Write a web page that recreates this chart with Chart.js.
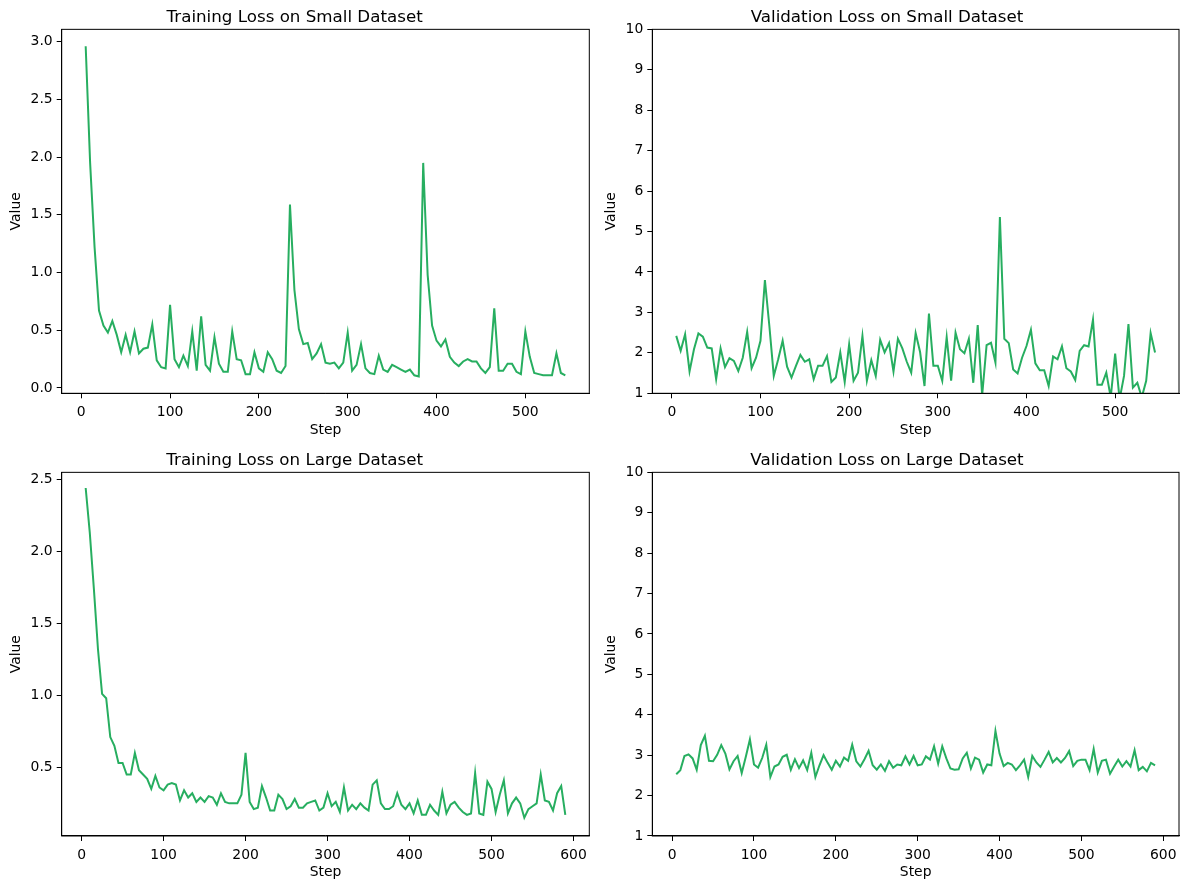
<!DOCTYPE html>
<html>
<head>
<meta charset="utf-8">
<script src="https://cdn.jsdelivr.net/npm/chart.js@4.4.1/dist/chart.umd.min.js"></script>
<style>
  html, body { margin: 0; padding: 0; background: #fff; }
  #wrap { position: relative; width: 1189px; height: 889px; }
  canvas { position: absolute; }
</style>
</head>
<body>
<div id="wrap">
  <canvas id="train_small" width="595" height="445" style="left:0;top:0"></canvas>
  <canvas id="val_small" width="594" height="445" style="left:595px;top:0"></canvas>
  <canvas id="train_large" width="595" height="444" style="left:0;top:445px"></canvas>
  <canvas id="val_large" width="594" height="444" style="left:595px;top:445px"></canvas>
</div>
<script>
// steps logged for each run
const stepsSmall = [5, 10, 15, 20, 25, 30, 35, 40, 45, 50, 55, 60, 65, 70, 75, 80, 85, 90, 95, 100,
    105, 110, 115, 120, 125, 130, 135, 140, 145, 150, 155, 160, 165, 170, 175, 180, 185, 190, 195, 200,
    205, 210, 215, 220, 225, 230, 235, 240, 245, 250, 255, 260, 265, 270, 275, 280, 285, 290, 295, 300,
    305, 310, 315, 320, 325, 330, 335, 340, 345, 350, 355, 360, 365, 370, 375, 380, 385, 390, 395, 400,
    405, 410, 415, 420, 425, 430, 435, 440, 445, 450, 455, 460, 465, 470, 475, 480, 485, 490, 495, 500,
    505, 510, 515, 520, 525, 530, 535, 540, 545];
const stepsLarge = [5, 10, 15, 20, 25, 30, 35, 40, 45, 50, 55, 60, 65, 70, 75, 80, 85, 90, 95, 100,
    105, 110, 115, 120, 125, 130, 135, 140, 145, 150, 155, 160, 165, 170, 175, 180, 185, 190, 195, 200,
    205, 210, 215, 220, 225, 230, 235, 240, 245, 250, 255, 260, 265, 270, 275, 280, 285, 290, 295, 300,
    305, 310, 315, 320, 325, 330, 335, 340, 345, 350, 355, 360, 365, 370, 375, 380, 385, 390, 395, 400,
    405, 410, 415, 420, 425, 430, 435, 440, 445, 450, 455, 460, 465, 470, 475, 480, 485, 490, 495, 500,
    505, 510, 515, 520, 525, 530, 535, 540, 545, 550, 555, 560, 565, 570, 575, 580, 585, 590];

const trainLossSmall = [2.96, 1.95, 1.22, 0.67, 0.54, 0.48, 0.58, 0.46, 0.31, 0.46,
    0.31, 0.49, 0.30, 0.34, 0.35, 0.55, 0.24, 0.18, 0.17, 0.72,
    0.25, 0.18, 0.28, 0.19, 0.49, 0.15, 0.62, 0.20, 0.15, 0.44,
    0.21, 0.14, 0.14, 0.49, 0.25, 0.24, 0.12, 0.12, 0.31, 0.17,
    0.14, 0.31, 0.25, 0.15, 0.13, 0.19, 1.59, 0.85, 0.51, 0.38,
    0.39, 0.25, 0.30, 0.38, 0.22, 0.21, 0.22, 0.17, 0.22, 0.48,
    0.15, 0.20, 0.38, 0.17, 0.13, 0.12, 0.28, 0.16, 0.14, 0.20,
    0.18, 0.16, 0.14, 0.16, 0.11, 0.10, 1.95, 0.98, 0.54, 0.41,
    0.36, 0.42, 0.27, 0.22, 0.19, 0.23, 0.25, 0.23, 0.23, 0.17,
    0.13, 0.18, 0.69, 0.15, 0.15, 0.21, 0.21, 0.14, 0.12, 0.49,
    0.27, 0.13, 0.12, 0.11, 0.11, 0.11, 0.30, 0.13, 0.11];
const valLossSmall = [2.42, 2.05, 2.46, 1.54, 2.09, 2.48, 2.40, 2.13, 2.11, 1.35,
    2.11, 1.65, 1.87, 1.80, 1.55, 1.88, 2.52, 1.62, 1.88, 2.30,
    3.80, 2.67, 1.43, 1.84, 2.30, 1.66, 1.39, 1.68, 1.95, 1.78,
    1.84, 1.35, 1.68, 1.68, 1.92, 1.28, 1.39, 2.01, 1.28, 2.21,
    1.31, 1.51, 2.42, 1.31, 1.82, 1.43, 2.32, 2.01, 2.24, 1.54,
    2.35, 2.11, 1.78, 1.51, 2.49, 2.02, 1.18, 2.97, 1.68, 1.68,
    1.31, 2.39, 1.31, 2.50, 2.09, 1.99, 2.35, 1.26, 2.69, 0.95,
    2.19, 2.25, 1.76, 5.36, 2.35, 2.24, 1.59, 1.49, 1.88, 2.17,
    2.57, 1.74, 1.57, 1.57, 1.18, 1.91, 1.84, 2.16, 1.62, 1.54,
    1.33, 2.05, 2.19, 2.16, 2.82, 1.21, 1.21, 1.51, 0.90, 1.98,
    0.85, 1.43, 2.71, 1.14, 1.26, 0.90, 1.31, 2.49, 2.01];
const trainLossLarge = [2.44, 2.13, 1.74, 1.32, 1.01, 0.98, 0.71, 0.65, 0.53, 0.53,
    0.45, 0.45, 0.60, 0.48, 0.45, 0.42, 0.35, 0.44, 0.36, 0.34,
    0.38, 0.39, 0.38, 0.27, 0.34, 0.29, 0.32, 0.26, 0.29, 0.26,
    0.30, 0.29, 0.24, 0.32, 0.26, 0.25, 0.25, 0.25, 0.31, 0.60,
    0.26, 0.21, 0.22, 0.37, 0.29, 0.20, 0.20, 0.31, 0.28, 0.21,
    0.23, 0.28, 0.22, 0.22, 0.25, 0.26, 0.27, 0.20, 0.22, 0.32,
    0.23, 0.26, 0.19, 0.36, 0.20, 0.24, 0.21, 0.25, 0.22, 0.20,
    0.38, 0.41, 0.25, 0.21, 0.21, 0.23, 0.32, 0.24, 0.21, 0.25,
    0.18, 0.27, 0.17, 0.17, 0.24, 0.20, 0.17, 0.33, 0.18, 0.24,
    0.26, 0.22, 0.19, 0.17, 0.18, 0.46, 0.18, 0.17, 0.40, 0.35,
    0.19, 0.31, 0.41, 0.18, 0.25, 0.29, 0.25, 0.15, 0.21, 0.23,
    0.25, 0.45, 0.27, 0.26, 0.20, 0.32, 0.37, 0.17];
const valLossLarge = [2.53, 2.63, 2.98, 3.02, 2.92, 2.64, 3.25, 3.48, 2.86, 2.85,
    3.01, 3.25, 3.04, 2.65, 2.85, 2.98, 2.56, 2.96, 3.39, 2.77,
    2.69, 2.93, 3.26, 2.46, 2.72, 2.77, 2.96, 3.01, 2.64, 2.90,
    2.68, 2.87, 2.63, 3.06, 2.46, 2.75, 3.00, 2.81, 2.64, 2.86,
    2.72, 2.94, 2.86, 3.26, 2.85, 2.72, 2.90, 3.11, 2.75, 2.64,
    2.77, 2.61, 2.85, 2.69, 2.77, 2.75, 2.97, 2.77, 2.98, 2.75,
    2.77, 2.97, 2.89, 3.22, 2.79, 3.22, 2.92, 2.67, 2.64, 2.65,
    2.92, 3.06, 2.67, 2.94, 2.89, 2.57, 2.77, 2.75, 3.60, 3.04,
    2.73, 2.81, 2.77, 2.63, 2.75, 2.89, 2.46, 2.98, 2.82, 2.71,
    2.89, 3.08, 2.82, 2.93, 2.82, 2.93, 3.10, 2.73, 2.86, 2.89,
    2.89, 2.63, 3.15, 2.57, 2.86, 2.89, 2.54, 2.72, 2.89, 2.72,
    2.85, 2.72, 3.12, 2.63, 2.71, 2.60, 2.81, 2.75];

// tick labels
const xTicksSmall = [0, 100, 200, 300, 400, 500];
const xTicksLarge = [0, 100, 200, 300, 400, 500, 600];
const yTicksTrainSmall = [0.0, 0.5, 1.0, 1.5, 2.0, 2.5, 3.0];
const yTicksTrainLarge = [0.5, 1.0, 1.5, 2.0, 2.5];
const yTicksVal = [1, 2, 3, 4, 5, 6, 7, 8, 9, 10];

Chart.defaults.font.family = "'DejaVu Sans', sans-serif";
Chart.defaults.font.size = 13.9;
Chart.defaults.color = "#000";

// matplotlib-style box around the axes
const framePlugin = {
    id: 'frame',
    afterDraw: function (chart) {
        const ctx = chart.ctx;
        const a = chart.chartArea;
        ctx.save();
        ctx.strokeStyle = "#000";
        ctx.lineWidth = 1;
        ctx.strokeRect(a.left, a.top, a.right - a.left, a.bottom - a.top);
        ctx.restore();
    }
};

function createLossChart(id, title, steps, values, opt) {
    const points = steps.map(function (s, i) { return {x: s, y: values[i]}; });
    new Chart(document.getElementById(id), {
        type: 'line',
        data: {
            datasets: [{
                data: points,
                borderColor: "#27ae60",
                borderWidth: 2,
                pointRadius: 0,
                tension: 0,
                fill: false
            }]
        },
        plugins: [framePlugin],
        options: {
            responsive: false,
            animation: false,
            layout: {
                padding: {left: 0, right: opt.padRight, top: 0, bottom: 0}
            },
            plugins: {
                legend: {display: false},
                tooltip: {enabled: false},
                title: {
                    display: true,
                    text: title,
                    color: "#000",
                    font: {size: 16.7, weight: 'normal'},
                    padding: {top: opt.titleTop, bottom: 1.3}
                }
            },
            scales: {
                x: {
                    type: 'linear',
                    min: opt.xMin,
                    max: opt.xMax,
                    afterBuildTicks: function (scale) {
                        scale.ticks = opt.xTicks.map(function (v) { return {value: v}; });
                    },
                    afterFit: function (scale) { scale.height = opt.xHeight; },
                    grid: {drawOnChartArea: false, drawTicks: true, tickLength: 5, color: "#000"},
                    border: {display: true, color: "#000"},
                    ticks: {padding: 6, maxRotation: 0, autoSkip: false},
                    title: {display: true, text: 'Step', padding: {top: 0, bottom: opt.xTitleBottom}}
                },
                y: {
                    min: opt.yMin,
                    max: opt.yMax,
                    afterBuildTicks: function (scale) {
                        scale.ticks = opt.yTicks.map(function (v) { return {value: v}; });
                    },
                    afterFit: function (scale) { scale.width = opt.yWidth; },
                    grid: {drawOnChartArea: false, drawTicks: true, tickLength: 5, color: "#000"},
                    border: {display: true, color: "#000"},
                    ticks: {
                        padding: 4,
                        autoSkip: false,
                        callback: function (v) { return opt.yDecimals ? v.toFixed(opt.yDecimals) : String(v); }
                    },
                    title: {display: true, text: 'Value', padding: {top: 7.7, bottom: 0}}
                }
            }
        }
    });
}

createLossChart("train_small", "Training Loss on Small Dataset", stepsSmall, trainLossSmall, {
    xMin: -22, xMax: 572, xTicks: xTicksSmall,
    yMin: -0.046, yMax: 3.107, yTicks: yTicksTrainSmall, yDecimals: 1,
    yWidth: 61.7, xHeight: 51.7, padRight: 5.7, titleTop: 8, xTitleBottom: 6.7
});
createLossChart("val_small", "Validation Loss on Small Dataset", stepsSmall, valLossSmall, {
    xMin: -22, xMax: 572, xTicks: xTicksSmall,
    yMin: 1, yMax: 10, yTicks: yTicksVal, yDecimals: 0,
    yWidth: 57.3, xHeight: 51.7, padRight: 10, titleTop: 8, xTitleBottom: 6.7
});
createLossChart("train_large", "Training Loss on Large Dataset", stepsLarge, trainLossLarge, {
    xMin: -24.25, xMax: 619.25, xTicks: xTicksLarge,
    yMin: 0.023, yMax: 2.549, yTicks: yTicksTrainLarge, yDecimals: 1,
    yWidth: 61.7, xHeight: 53, padRight: 5.7, titleTop: 6, xTitleBottom: 8.7
});
createLossChart("val_large", "Validation Loss on Large Dataset", stepsLarge, valLossLarge, {
    xMin: -24.25, xMax: 619.25, xTicks: xTicksLarge,
    yMin: 1, yMax: 10, yTicks: yTicksVal, yDecimals: 0,
    yWidth: 57.3, xHeight: 53, padRight: 10, titleTop: 6, xTitleBottom: 8.7
});
</script>
</body>
</html>
